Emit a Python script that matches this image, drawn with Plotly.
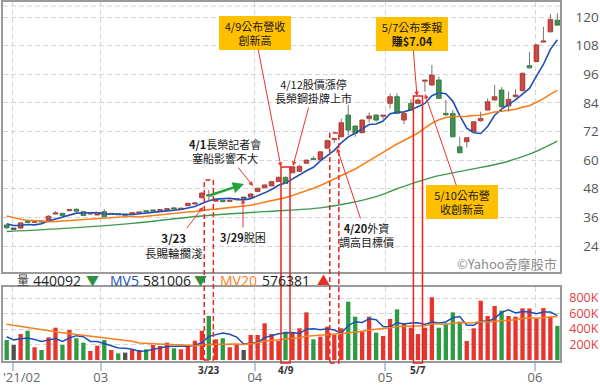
import pandas as pd
import plotly.graph_objects as go

# ---------------- data ----------------
opens = [32.8, 31.0, 31.5, 34.2, 33.9, 34.2, 34.5, 37.4, 37.7, 38.8,
         39.4, 38.4, 37.4, 37.0, 38.4, 37.2, 37.5, 36.9, 37.3, 37.8,
         38.6, 39.1, 38.8, 39.2, 39.8, 39.4, 40.9, 41.6, 44.2, 45.5,
         42.8, 43.2, 42.7, 43.4, 44.0, 44.5, 46.8, 48.4, 49.2, 51.0,
         52.8, 54.7, 55.3, 58.7, 60.4, 60.2, 65.0, 68.6, 69.8, 78.9,
         74.3, 71.5, 77.4, 78.9, 78.4, 83.8, 86.6, 76.8, 83.8, 83.8,
         93.1, 91.5, 93.6, 79.6, 79.6, 65.6, 67.7, 71.9, 76.5, 81.0,
         85.2, 89.4, 82.7, 86.6, 89.1, 99.6, 101.3, 109.5, 113.8, 118.7]
highs = [33.2, 31.4, 34.1, 34.8, 34.3, 34.4, 36.8, 38.6, 38.0, 39.4,
         39.8, 38.6, 37.9, 38.3, 39.5, 37.8, 37.7, 37.2, 38.2, 38.3,
         38.8, 39.3, 39.2, 40.0, 40.0, 39.9, 42.1, 42.4, 46.6, 47.5,
         43.6, 43.4, 43.4, 44.0, 44.3, 46.1, 48.5, 49.9, 51.3, 53.1,
         53.2, 57.4, 58.0, 60.3, 61.6, 63.8, 68.6, 68.9, 77.4, 83.1,
         74.6, 77.2, 80.0, 79.3, 78.9, 88.0, 88.0, 80.0, 85.5, 85.9,
         93.6, 99.9, 95.0, 85.2, 81.0, 69.8, 69.6, 76.5, 80.3, 85.9,
         91.5, 90.6, 88.7, 89.7, 96.8, 105.4, 108.6, 115.9, 121.3, 121.6]
lows = [31.3, 30.7, 31.2, 33.6, 33.6, 33.8, 34.3, 37.2, 36.5, 38.6,
        38.3, 36.5, 37.2, 36.8, 36.0, 37.0, 37.0, 36.6, 37.1, 37.6,
        38.1, 38.3, 38.6, 39.0, 39.3, 39.2, 40.7, 41.3, 44.0, 42.6,
        42.5, 42.3, 42.5, 43.2, 43.7, 44.3, 46.6, 48.2, 49.0, 50.8,
        50.0, 54.5, 55.0, 58.5, 60.1, 60.0, 64.8, 67.2, 69.5, 70.5,
        69.8, 71.2, 75.8, 76.1, 77.0, 81.7, 79.3, 75.1, 80.6, 83.5,
        88.7, 91.0, 85.6, 78.6, 69.5, 62.8, 65.3, 71.6, 76.2, 80.7,
        84.9, 80.3, 80.3, 86.3, 88.8, 98.4, 101.0, 109.3, 113.5, 116.3]
closes = [31.6, 31.0, 33.7, 33.9, 34.1, 34.0, 36.5, 37.8, 36.8, 39.2,
          38.6, 36.8, 37.7, 38.0, 36.3, 37.6, 37.1, 36.9, 38.0, 38.1,
          38.3, 38.6, 39.0, 39.6, 39.5, 39.7, 41.9, 42.0, 46.2, 45.0,
          43.2, 42.6, 43.1, 43.8, 44.0, 45.8, 48.2, 49.6, 51.0, 52.8,
          50.2, 57.2, 57.4, 60.0, 60.2, 63.5, 68.2, 68.7, 75.7, 72.6,
          71.2, 76.8, 78.5, 76.8, 78.6, 86.6, 79.6, 79.6, 81.0, 85.2,
          93.4, 95.7, 85.9, 79.0, 69.8, 63.1, 69.4, 76.1, 77.5, 84.5,
          86.6, 82.4, 85.5, 87.3, 96.4, 98.7, 108.3, 109.8, 119.0, 116.6]
volumes_k = [258, 194, 335, 378, 164, 129, 292, 417, 194, 387,
             280, 224, 116, 185, 258, 129, 86, 95, 129, 129,
             138, 194, 181, 224, 151, 138, 194, 249, 378, 568,
             267, 280, 164, 194, 129, 323, 323, 473, 335, 245,
             366, 353, 409, 615, 267, 301, 430, 323, 409, 753,
             559, 378, 559, 353, 310, 529, 654, 470, 417, 335,
             417, 809, 417, 473, 615, 495, 245, 409, 765, 568,
             697, 637, 568, 559, 667, 665, 530, 670, 560, 440]
# u = up (red), d = down (green), f = flat (gray), ten bars per group
vol_dir_groups = ["dfududuudu", "dduududfuu", "duuuduuuud", "uduufuuuuu",
                  "duuuduuuud", "duuduuduuu", "uudddduuuu", "uduuuuuuud"]
vol_dir = "".join(vol_dir_groups)

ma5_head = [33.3, 32.6, 32.6, 33.0]
ma20_head = [36.6, 35.8, 35.2, 34.8, 34.5, 34.2, 34.2, 34.3, 34.5, 34.7,
             34.9, 35.1, 35.3, 35.5, 35.7, 35.9, 36.1, 36.3, 36.5]
ma60_idx = [0, 9, 18, 28, 37, 45, 49, 53, 56, 61, 66, 71, 75, 79]
ma60_val = [30.1, 31.5, 33.5, 36.6, 38.4, 40.0, 41.9, 44.7, 48.0, 52.8, 55.8, 58.8, 62.5, 68.0]
vmv5_head_k = [300, 260, 275, 283]
vmv20_head_k = [460, 445, 430, 415, 400, 388, 376, 364, 352, 341,
                330, 319, 308, 297, 286, 275, 264, 253, 243]

month_pos = [0.9, 13.5, 35.6, 54.3, 75.8]
month_text = ["'21/02", "03", "04", "05", "06"]
price_ticks = [24, 36, 48, 60, 72, 84, 96, 108, 120]
vol_ticks = [200000, 400000, 600000, 800000]
vol_tick_text = ["200K", "400K", "600K", "800K"]
vol_last, mv5_last, mv20_last = 440092, 581006, 576381
events = {"3/23": 29, "4/9": 40, "4/20": 47, "5/7": 59}

# ---------------- geometry helpers ----------------
W, H = 600, 386
ML, MR, MT, MB = 3, 40, 2, 25
PW, PH = W - ML - MR, H - MT - MB


def px(X):
    return (X - ML) / PW


def py(Y):
    return (H - MB - Y) / PH


RED, GREEN, GRAY = "#e5352d", "#2f9a44", "#505050"
BLUE, ORANGE, MGREEN = "#1d4fb6", "#f5801f", "#3f9a4f"
ANN_RED = "#e8362d"
CJK = "Noto Sans CJK TC, Open Sans, sans-serif"
LAT = "Open Sans, Noto Sans CJK TC, sans-serif"

n = len(closes)
idx = list(range(n))
df = pd.DataFrame({"o": opens, "h": highs, "l": lows, "c": closes, "v": [v * 1000 for v in volumes_k]})

ma5 = df["c"].rolling(5).mean()
ma5.iloc[:4] = ma5_head
ma20 = df["c"].rolling(20).mean()
ma20.iloc[:19] = ma20_head
vmv5 = df["v"].rolling(5).mean()
vmv5.iloc[:4] = [v * 1000 for v in vmv5_head_k]
vmv20 = df["v"].rolling(20).mean()
vmv20.iloc[:19] = [v * 1000 for v in vmv20_head_k]

body_base, body_h, body_col, body_line = [], [], [], []
for o, c in zip(opens, closes):
    body_base.append(min(o, c))
    body_h.append(max(abs(c - o), 0.5))
    if c > o:
        body_col.append(RED); body_line.append("#a82a24")
    elif c < o:
        body_col.append(GREEN); body_line.append("#1f6e30")
    else:
        body_col.append(GRAY); body_line.append("#333333")

wx, wy = [], []
for i, (h, l) in enumerate(zip(highs, lows)):
    wx += [i, i, None]
    wy += [l, h, None]

vcol = [{"u": RED, "d": GREEN, "f": GRAY}[d] for d in vol_dir]

fig = go.Figure()
fig.add_trace(go.Scatter(x=idx, y=ma5, mode="lines", line=dict(color=BLUE, width=1.6), xaxis="x", yaxis="y"))
fig.add_trace(go.Scatter(x=idx, y=ma20, mode="lines", line=dict(color=ORANGE, width=1.6), xaxis="x", yaxis="y"))
fig.add_trace(go.Scatter(x=ma60_idx, y=ma60_val, mode="lines", line=dict(color=MGREEN, width=1.4, shape="spline"),
                         xaxis="x", yaxis="y"))
fig.add_trace(go.Scatter(x=wx, y=wy, mode="lines", line=dict(color="#777777", width=1), xaxis="x", yaxis="y"))
fig.add_trace(go.Bar(x=idx, y=body_h, base=body_base, width=0.66,
                     marker=dict(color=body_col, line=dict(color=body_line, width=0.8)), xaxis="x", yaxis="y"))

fig.add_trace(go.Bar(x=idx, y=df["v"], width=0.62, marker=dict(color=vcol, line=dict(width=0)),
                     xaxis="x2", yaxis="y2"))
fig.add_trace(go.Scatter(x=idx, y=vmv5, mode="lines", line=dict(color=BLUE, width=1.5), xaxis="x2", yaxis="y2"))
fig.add_trace(go.Scatter(x=idx, y=vmv20, mode="lines", line=dict(color=ORANGE, width=1.5), xaxis="x2", yaxis="y2"))

grid = dict(showgrid=True, gridcolor="#d6d6d6", griddash="5px,3px", gridwidth=1,
            showline=True, linecolor="#9a9a9a", linewidth=1.5, mirror=True, zeroline=False)
xr = [-0.53, 79.38]

fig.update_layout(
    width=W, height=H, margin=dict(l=ML, r=MR, t=MT, b=MB, autoexpand=False),
    paper_bgcolor="white", plot_bgcolor="white", showlegend=False,
    xaxis=dict(domain=[0, 1], range=xr, anchor="y", tickvals=month_pos, showticklabels=False, ticks="", **grid),
    yaxis=dict(domain=[py(272), 1], range=[13.1, 126.3], side="right", tickvals=price_ticks,
               ticktext=[("\u2007" if t < 100 else "") + str(t) for t in price_ticks],
               ticks="", ticklabelstandoff=11, tickfont=dict(family=LAT, size=13.5, color="#555555"), **grid),
    xaxis2=dict(domain=[0, 1], range=xr, anchor="y2", tickvals=month_pos,
                ticktext=[""] + month_text[1:], ticks="outside", ticklen=8, tickcolor="#b4c8de", tickwidth=1.5,
                ticklabelstandoff=-4,
                tickfont=dict(family=LAT, size=13, color="#666666"), **grid),
    yaxis2=dict(domain=[0, py(287)], range=[-13000, 942000], side="right", tickvals=vol_ticks,
                ticktext=vol_tick_text, ticks="", ticklabelstandoff=5,
                tickfont=dict(family=LAT, size=12.5, color="#e04040"), **grid),
)

shapes = [dict(type="line", xref="paper", yref="paper", x0=0, x1=1, y0=py(6), y1=py(6),
               line=dict(color="#d6d6d6", width=1, dash="5px,3px"))]
box_spec = {"3/23": (180, 360, "5px,3px"), "4/9": (167, 363, "solid"),
            "4/20": (133, 363, "5px,3px"), "5/7": (96, 363, "solid")}
for k, (top, bot, dash) in box_spec.items():
    i = events[k]
    shapes.append(dict(type="rect", xref="x", yref="paper", x0=i - 0.65, x1=i + 0.65, y0=py(bot), y1=py(top),
                       line=dict(color="#e8261f", width=1.5, dash=dash), fillcolor="rgba(0,0,0,0)"))
fig.update_layout(shapes=shapes)

ann = []


def arrow(text, tip, center, size=11, box=False, color=ANN_RED, width=1, head=2):
    d = dict(xref="paper", yref="paper", x=px(tip[0]), y=py(tip[1]), text=text, showarrow=True,
             ax=center[0] - tip[0], ay=center[1] - tip[1], arrowcolor=color, arrowwidth=width,
             arrowhead=head, arrowsize=0.9, font=dict(family=CJK, size=size, color="#1a1a1a"))
    if box:
        d.update(bgcolor="#FFC000", bordercolor="#FFC000", borderpad=3, width=64, height=26)
    ann.append(d)


arrow("4/9公布營收<br>創新高", (281, 167), (255, 33), size=11, box=True)
arrow("5/7公布季報<br><b>賺$7.04</b>", (417, 96), (412, 34), size=11, box=True)
arrow("5/10公布營<br>收創新高", (425, 94), (462, 202), size=11, box=True)
arrow("4/12股價漲停<br>長榮鋼掛牌上市", (293, 166), (313, 91), size=11)
arrow("<b>4/1</b>長榮記者會<br>塞船影響不大", (253, 186), (225, 151), size=11)
arrow("<b>3/23</b><br>長賜輪擱淺", (203, 207), (174, 245), size=11.5)
arrow("<b>4/20</b>外資<br>調高目標價", (337, 148), (366, 235), size=11)
arrow("<b>3/29</b>脫困", (243, 199), (243, 237), size=11)
ann.append(dict(xref="paper", yref="paper", x=px(244), y=py(184), text="", showarrow=True, ax=-36, ay=12,
                arrowcolor="#22a43a", arrowwidth=2.5, arrowhead=2, arrowsize=0.9))


def label(text, X, Y, size, color, family=LAT, xanchor="left", xref="paper"):
    ann.append(dict(xref=xref, yref="paper", x=X if xref != "paper" else px(X), y=py(Y), text=text,
                    xanchor=xanchor, yanchor="middle", showarrow=False,
                    font=dict(family=family, size=size, color=color)))


# event labels below the volume panel
for k in ["3/23", "4/9", "5/7"]:
    label("<b>%s</b>" % k, events[k], 370, 10, "#333333", xanchor="center", xref="x2")
label(month_text[0], 1, 377, 13, "#666666")

# volume header
header = [("量", 15, "#444444", 12), (str(vol_last), 31, "#222222", 14), ("▼", 84, "#2e9142", 13),
          ("MV5", 108, BLUE, 14), (str(mv5_last), 141, "#222222", 14), ("▼", 192, "#2e9142", 13),
          ("MV20", 218, ORANGE, 14), (str(mv20_last), 260, "#222222", 14), ("▲", 315, "#e0302a", 13)]
for t, X, c, s in header:
    label(t, X, 280, s, c)

label("©Yahoo奇摩股市", 559, 263, 13, "#8c8c8c", family=CJK, xanchor="right")
fig.update_layout(annotations=ann)

fig.write_html("out.html", config={"displayModeBar": False},
               post_script="document.body.style.margin='0';document.body.style.overflow='hidden';")
